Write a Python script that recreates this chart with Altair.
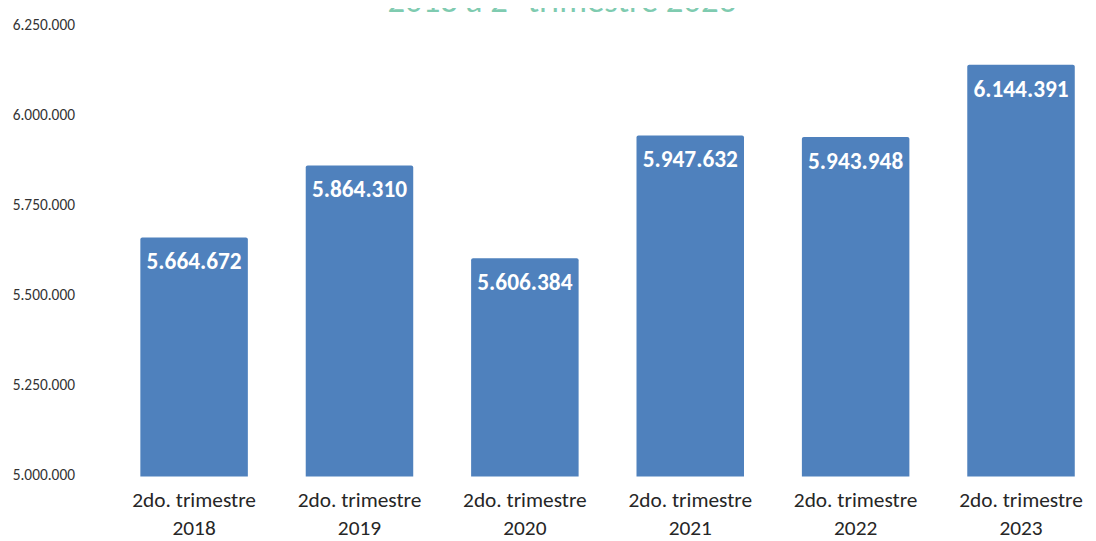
import altair as alt
import pandas as pd

quarters = ["2do. trimestre"] * 6
years = ["2018", "2019", "2020", "2021", "2022", "2023"]
values = [5664672, 5864310, 5606384, 5947632, 5943948, 6144391]
y_ticks = [5000000, 5250000, 5500000, 5750000, 6000000, 6250000]
title_line = "2018 a 2° trimestre 2023"

df = pd.DataFrame({
    "cat": [f"{q} {y}" for q, y in zip(quarters, years)],
    "value": values,
})

FONT = "Carlito, Liberation Sans, Arial, sans-serif"
BLUE = "#4F81BD"
dotfmt = "replace(format({v}, ','), regexp(',', 'g'), '.')"

x = alt.X(
    "cat:N",
    sort=None,
    title=None,
    scale=alt.Scale(paddingInner=0.35, paddingOuter=0.05),
    axis=alt.Axis(
        labelAngle=0,
        labelFont=FONT,
        labelFontSize=21.5,
        labelColor="#262626",
        labelPadding=13,
        labelLineHeight=28,
        ticks=False,
        domain=False,
        labelExpr="[substring(datum.label, 0, lastindexof(datum.label, ' ')), substring(datum.label, lastindexof(datum.label, ' ') + 1)]",
    ),
)

y_scale = alt.Scale(domain=[5000000, 6250000], zero=False, nice=False)

base = alt.Chart(df)

bars = base.mark_bar(
    color=BLUE,
    cornerRadiusTopLeft=2,
    cornerRadiusTopRight=2,
).encode(
    x=x,
    y=alt.Y(
        "value:Q",
        scale=y_scale,
        title=None,
        axis=alt.Axis(
            values=y_ticks,
            labelFont=FONT,
            labelFontSize=15.5,
            labelColor="#333333",
            labelPadding=58,
            labelOffset=-2,
            ticks=False,
            domain=False,
            grid=False,
            labelExpr=dotfmt.format(v="datum.value"),
        ),
    ),
    y2=alt.datum(5000000),
)

labels = base.transform_calculate(
    lbl=dotfmt.format(v="datum.value")
).mark_text(
    font=FONT,
    fontSize=23.5,
    fontWeight="bold",
    color="white",
    baseline="middle",
    dy=25,
).encode(
    x=x,
    y=alt.Y("value:Q", scale=y_scale),
    text="lbl:N",
)

title = alt.Chart(pd.DataFrame({"t": [title_line]})).mark_text(
    font=FONT,
    fontSize=35,
    color="#7FCBB0",
    baseline="alphabetic",
    align="center",
).encode(
    x=alt.value(433),
    y=alt.value(-14.5),
    text="t:N",
)

chart = alt.layer(bars, labels, title).properties(
    width=958,
    height=453,
    padding={"left": 125, "top": 17, "right": 5, "bottom": 63},
    autosize=alt.AutoSizeParams(type="none"),
).configure_view(stroke=None)

chart.save("out.html", embed_options={"renderer": "svg", "actions": False})
